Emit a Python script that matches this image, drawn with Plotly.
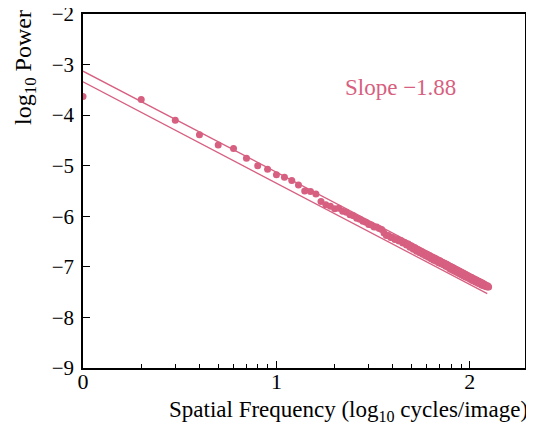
import numpy as np
import plotly.graph_objects as go

# spatial frequency (cycles/image) and measured log10 power
freq = list(range(1, 126))
log_power = [
    -3.63, -3.69, -4.10, -4.39, -4.59, -4.66, -4.85, -5.00, -5.07, -5.18,
    -5.23, -5.29, -5.38, -5.50, -5.51, -5.56, -5.71, -5.77, -5.80, -5.85,
    -5.84, -5.90, -5.92, -5.97, -5.99, -6.04, -6.06, -6.10, -6.12, -6.16,
    -6.17, -6.21, -6.21, -6.24, -6.26, -6.33, -6.38, -6.38, -6.42, -6.42,
    -6.46, -6.45, -6.49, -6.48, -6.53, -6.52, -6.57, -6.55, -6.61, -6.59,
    -6.65, -6.62, -6.69, -6.66, -6.72, -6.69, -6.75, -6.73, -6.78, -6.75,
    -6.81, -6.78, -6.84, -6.81, -6.87, -6.83, -6.89, -6.86, -6.92, -6.88,
    -6.94, -6.91, -6.96, -6.93, -6.99, -6.95, -7.01, -6.98, -7.04, -7.00,
    -7.06, -7.02, -7.08, -7.04, -7.10, -7.06, -7.12, -7.08, -7.14, -7.10,
    -7.16, -7.12, -7.18, -7.14, -7.20, -7.16, -7.21, -7.18, -7.23, -7.20,
    -7.25, -7.21, -7.27, -7.23, -7.28, -7.25, -7.30, -7.26, -7.31, -7.28,
    -7.33, -7.29, -7.34, -7.31, -7.36, -7.32, -7.37, -7.34, -7.38, -7.36,
    -7.39, -7.37, -7.40, -7.38, -7.40,
]

# two fitted lines (log10 frequency endpoints, log10 power)
fit_x = [0.0, 2.09]
fit_upper = [-3.13, -7.31]
fit_lower = [-3.34, -7.53]

x_ticks = [0, 1, 2]
y_ticks = [-9, -8, -7, -6, -5, -4, -3, -2]
minor_x = [np.log10(m) + d for d in (0, 1, 2) for m in range(2, 10)]
minor_x = [v for v in minor_x if v <= 2.28]

COLOR = "#D75F80"
FONT = "Liberation Serif"

fig = go.Figure()
fig.add_trace(go.Scatter(x=fit_x, y=fit_upper, mode="lines",
                         line=dict(color=COLOR, width=1.3), showlegend=False))
fig.add_trace(go.Scatter(x=fit_x, y=fit_lower, mode="lines",
                         line=dict(color=COLOR, width=1.3), showlegend=False))
fig.add_trace(go.Scatter(x=np.log10(freq), y=log_power, mode="markers",
                         marker=dict(color=COLOR, size=7), showlegend=False))

# the page body has an 8px margin, so the figure is sized to fit the window
fig.update_layout(
    width=526, height=417,
    margin=dict(l=75, r=9, t=6, b=57),
    paper_bgcolor="white", plot_bgcolor="white",
    font=dict(family=FONT, size=22, color="black"),
    xaxis=dict(range=[0, 2.285], tickvals=x_ticks, ticktext=[str(v) for v in x_ticks],
               ticks="inside", ticklen=7, tickwidth=1.3, tickcolor="black",
               showline=True, linecolor="black", linewidth=1.6, mirror=True,
               showgrid=False, zeroline=False, automargin=False,
               ticklabelstandoff=-7, ticklabeloverflow="allow",
               minor=dict(tickmode="array", tickvals=minor_x, ticks="inside",
                          ticklen=4, tickwidth=1, tickcolor="black"),
               tickfont=dict(size=22)),
    yaxis=dict(range=[-9, -2], tickvals=y_ticks, ticktext=["\u2212" + str(-v) for v in y_ticks],
               ticks="inside", ticklen=7, tickwidth=1.3, tickcolor="black",
               showline=True, linecolor="black", linewidth=1.6, mirror=True,
               showgrid=False, zeroline=False, automargin=False,
               ticklabelstandoff=3, ticklabeloverflow="allow", tickfont=dict(size=21)),
    annotations=[
        dict(text="log<sub>10</sub> Power", xref="paper", yref="paper",
             x=-0.131, y=0.848, textangle=-90, showarrow=False,
             xanchor="center", yanchor="middle", font=dict(size=24)),
        dict(text="Spatial Frequency (log<sub>10</sub> cycles/image)", xref="paper", yref="paper",
             x=1.011, y=-0.121, showarrow=False, xanchor="right", yanchor="middle",
             font=dict(size=23)),
        dict(text="Slope \u22121.88", x=1.64, y=-3.46, xref="x", yref="y",
             showarrow=False, font=dict(size=23, color=COLOR)),
    ],
)

fig.write_html("out.html")
